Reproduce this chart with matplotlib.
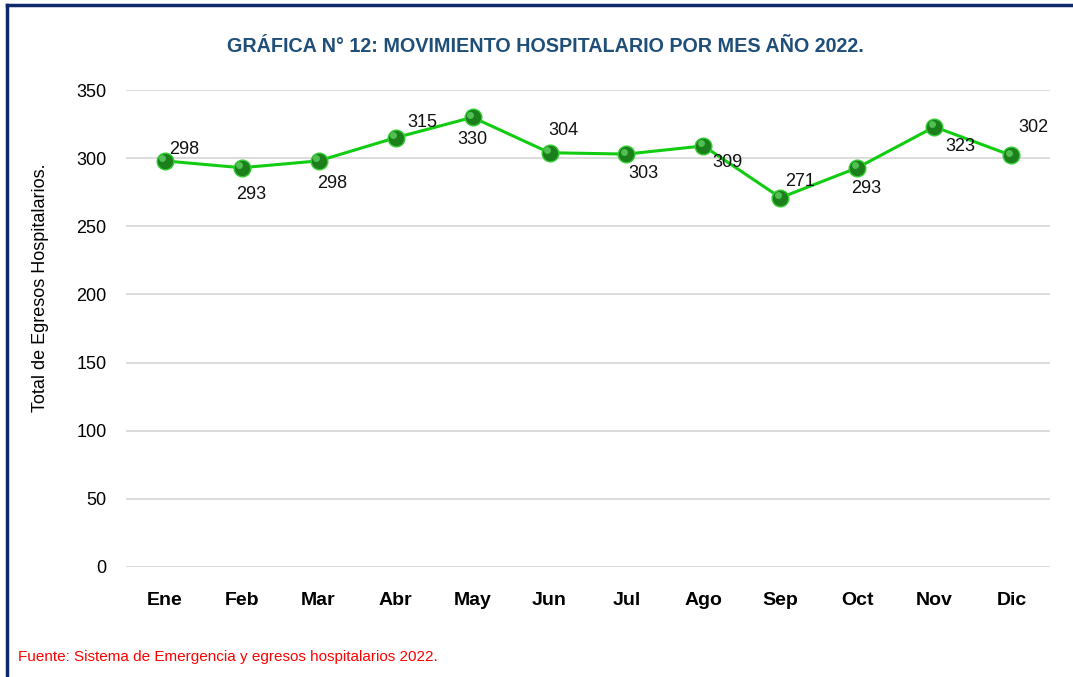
import matplotlib
matplotlib.use("Agg")
import matplotlib.pyplot as plt
from matplotlib.lines import Line2D
from matplotlib.transforms import offset_copy

plt.rcParams['font.family'] = ['Liberation Sans Narrow', 'Liberation Sans', 'DejaVu Sans']

meses = ["Ene", "Feb", "Mar", "Abr", "May", "Jun", "Jul", "Ago", "Sep", "Oct", "Nov", "Dic"]
egresos = [298, 293, 298, 315, 330, 304, 303, 309, 271, 293, 323, 302]
# where each value label sits relative to its point (points)
lbl_off = [(14, 8), (7, -19), (10, -16), (19, 11), (0, -16), (10, 16), (12, -14), (17, -12),
           (14, 12), (6, -15), (19, -14), (16, 20)]

fig = plt.figure(figsize=(10.73, 6.77), dpi=100)
ax = fig.add_axes([0.1175, 0.1625, 0.861, 0.7045])

x = list(range(len(meses)))
ax.plot(x, egresos, color="#11cc11", lw=2.2, zorder=3)
ax.plot(x, egresos, ls="none", marker="o", ms=12, mfc="#1b7f1b", mec="#33cc33", mew=1.0, zorder=4)
hl = offset_copy(ax.transData, fig=fig, x=-1.5, y=1.8, units="points")
ax.plot(x, egresos, ls="none", marker="o", ms=5, mfc="#5fd05f", mec="none", alpha=0.8,
        transform=hl, zorder=5)

for xi, v, off in zip(x, egresos, lbl_off):
    ax.annotate(str(v), (xi, v), xytext=off, textcoords="offset points",
                ha="center", va="center", fontsize=13, color="#111111", zorder=6)

ax.set_xlim(-0.5, len(meses) - 0.5)
ax.set_ylim(0, 350)
ax.set_yticks(range(0, 351, 50))
ax.set_xticks(x)
ax.set_xticklabels(meses, fontsize=14, fontweight="bold")
ax.tick_params(axis="y", labelsize=13, length=0, pad=14)
ax.tick_params(axis="x", length=0, pad=18)
ax.grid(axis="y", color="#d9d9d9", lw=1.3)
ax.set_axisbelow(True)
for s in ax.spines.values():
    s.set_visible(False)

ax.set_ylabel("Total de Egresos Hospitalarios.", fontsize=13)
ax.yaxis.set_label_coords(-0.083, 0.585)

fig.text(0.508, 0.932, "GRÁFICA N° 12: MOVIMIENTO HOSPITALARIO POR MES AÑO 2022.",
         ha="center", va="center", fontsize=14.2, fontweight="bold", color="#1f4e79")
fig.text(0.017, 0.029, "Fuente: Sistema de Emergencia y egresos hospitalarios 2022.",
         ha="left", va="center", fontsize=11, color="#ff0000")

# frame lines (top and left)
fig.add_artist(Line2D([0.0065, 0.0065], [0, 0.992], transform=fig.transFigure, color="#0d2a6b", lw=2.5))
fig.add_artist(Line2D([0.0065, 1.0], [0.992, 0.992], transform=fig.transFigure, color="#0d2a6b", lw=2.5))

fig.savefig("out.png", dpi=100)
